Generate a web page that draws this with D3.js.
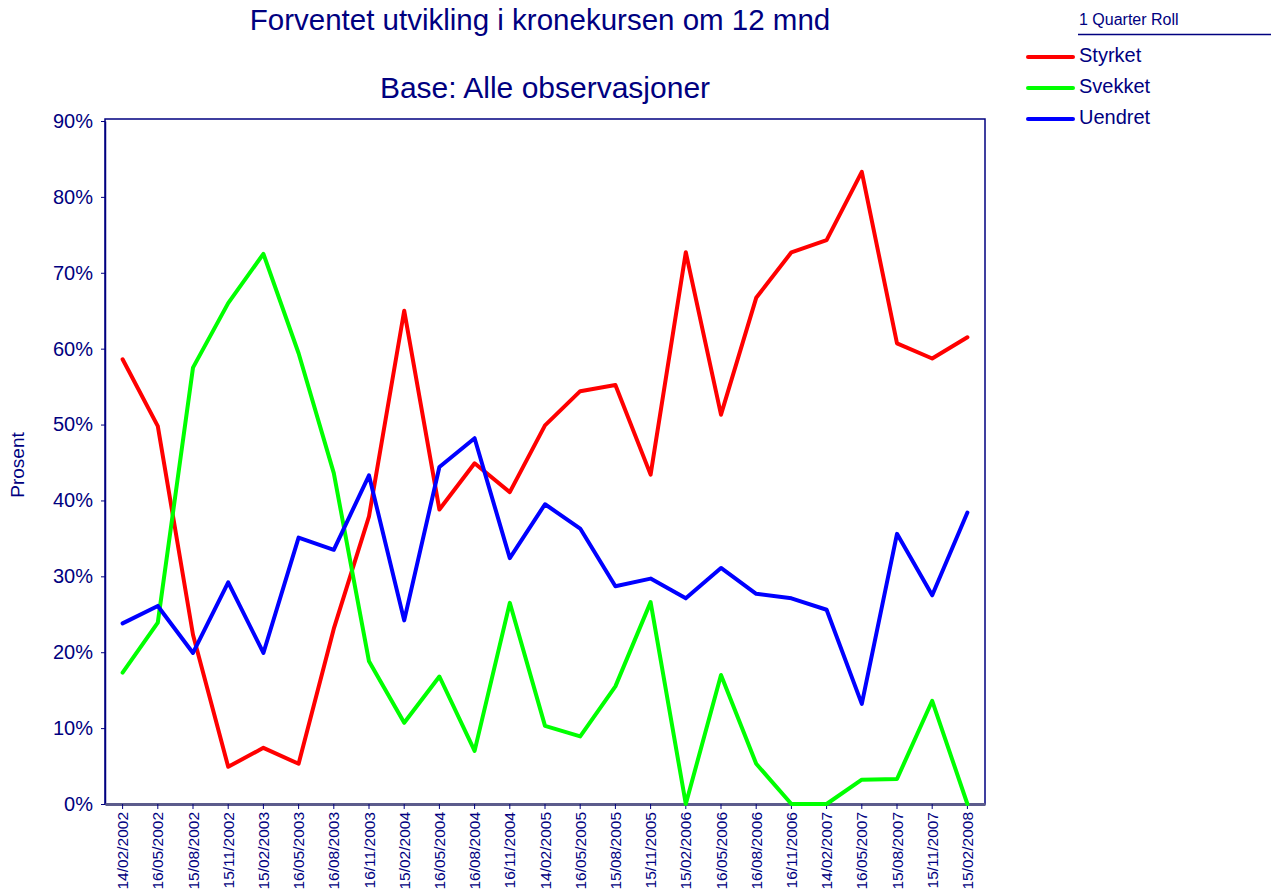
<!DOCTYPE html>
<html lang="no">
<head>
<meta charset="UTF-8" />
<title>Forventet utvikling i kronekursen om 12 mnd</title>
<script src="https://d3js.org/d3.v7.min.js"></script>
<style>
  body { margin: 0; background: #fff; }
  svg { display: block; font-family: "Liberation Sans", Arial, sans-serif; }
  text { fill: #000080; }
</style>
</head>
<body>
<script>
// quarterly observation dates
const dates = [
  "14/02/2002", "16/05/2002", "15/08/2002", "15/11/2002", "15/02/2003",
  "16/05/2003", "16/08/2003", "16/11/2003", "15/02/2004", "16/05/2004",
  "16/08/2004", "16/11/2004", "14/02/2005", "16/05/2005", "15/08/2005",
  "15/11/2005", "15/02/2006", "16/05/2006", "16/08/2006", "16/11/2006",
  "14/02/2007", "16/05/2007", "15/08/2007", "15/11/2007", "15/02/2008"
];
// percentages
const styrket = [58.6, 49.8, 22.3, 4.9, 7.4, 5.3, 23.1, 37.9, 65.0, 38.8,
  44.9, 41.1, 49.9, 54.4, 55.2, 43.4, 72.7, 51.3, 66.7, 72.7, 74.3, 83.3, 60.7, 58.7, 61.5];
const svekket = [17.3, 23.9, 57.5, 66.0, 72.5, 59.4, 43.6, 18.8, 10.7, 16.8,
  7.0, 26.5, 10.3, 8.9, 15.5, 26.6, 0, 17.0, 5.3, 0, 0, 3.2, 3.3, 13.6, 0];
const uendret = [23.8, 26.1, 19.9, 29.2, 19.9, 35.1, 33.5, 43.3, 24.2, 44.4,
  48.2, 32.4, 39.5, 36.3, 28.7, 29.7, 27.1, 31.1, 27.7, 27.1, 25.6, 13.2, 35.6, 27.5, 38.4];
const seriesNames = ["Styrket", "Svekket", "Uendret"];
const seriesColors = ["#ff0000", "#00ff00", "#0000ff"];
const yTicks = [0, 10, 20, 30, 40, 50, 60, 70, 80, 90];

const W = 1271, H = 893;
const navy = "#000080";
const plot = { left: 105, right: 985, top: 119, bottom: 804 };

const svg = d3.select("body").append("svg")
  .attr("width", W).attr("height", H);

const x = d3.scaleBand().domain(dates).range([plot.left, plot.right]);
const y = d3.scaleLinear().domain([0, 90]).range([plot.bottom, plot.top + 2]);

// titles
svg.append("text").attr("x", 540).attr("y", 30)
  .attr("text-anchor", "middle").attr("font-size", 29.5)
  .text("Forventet utvikling i kronekursen om 12 mnd");
svg.append("text").attr("x", 545).attr("y", 98)
  .attr("text-anchor", "middle").attr("font-size", 30)
  .text("Base: Alle observasjoner");

// plot frame
svg.append("rect")
  .attr("x", plot.left).attr("y", plot.top)
  .attr("width", plot.right - plot.left).attr("height", plot.bottom - plot.top)
  .attr("fill", "none").attr("stroke", navy).attr("stroke-width", 1.5);

// y axis
const yAxis = svg.append("g")
  .attr("transform", `translate(${plot.left},0)`)
  .call(d3.axisLeft(y).tickValues(yTicks).tickSize(4).tickSizeOuter(0)
    .tickPadding(8).tickFormat(d => d + "%"));
yAxis.select(".domain").attr("stroke", navy).attr("stroke-width", 1.5);
yAxis.selectAll(".tick line").attr("stroke", navy);
yAxis.selectAll(".tick text").attr("fill", navy).attr("font-size", 20)
  .attr("font-family", "Liberation Sans, Arial, sans-serif");

svg.append("text")
  .attr("transform", `translate(24,465) rotate(-90)`)
  .attr("text-anchor", "middle").attr("font-size", 19)
  .text("Prosent");

// x axis
const xAxis = svg.append("g")
  .attr("transform", `translate(0,${plot.bottom})`)
  .call(d3.axisBottom(x).tickSize(5).tickSizeOuter(0).tickPadding(4));
xAxis.select(".domain").attr("stroke", "#5c5c8c").attr("stroke-width", 3);
xAxis.selectAll(".tick line").attr("stroke", navy);
xAxis.selectAll(".tick text")
  .attr("fill", navy).attr("font-size", 15.5)
  .attr("font-family", "Liberation Sans, Arial, sans-serif")
  .attr("text-anchor", "end")
  .attr("transform", "rotate(-90)")
  .attr("x", -8).attr("y", 0).attr("dy", "0.36em");

// lines
const allSeries = [styrket, svekket, uendret];
const line = d3.line()
  .x((d, i) => x(dates[i]) + x.bandwidth() / 2)
  .y(d => y(d));

svg.append("g").selectAll("path")
  .data(allSeries)
  .join("path")
  .attr("d", line)
  .attr("fill", "none")
  .attr("stroke", (d, i) => seriesColors[i])
  .attr("stroke-width", 4)
  .attr("stroke-linejoin", "round")
  .attr("stroke-linecap", "round");

// legend
const legend = svg.append("g");
legend.append("text").attr("x", 1079).attr("y", 25).attr("font-size", 16).text("1 Quarter Roll");
legend.append("line").attr("x1", 1078).attr("x2", 1271).attr("y1", 34.5).attr("y2", 34.5)
  .attr("stroke", navy).attr("stroke-width", 1.5);
const item = legend.selectAll("g.item")
  .data(seriesNames)
  .join("g").attr("class", "item")
  .attr("transform", (d, i) => `translate(0,${57 + i * 31})`);
item.append("line").attr("x1", 1028).attr("x2", 1073)
  .attr("stroke", (d, i) => seriesColors[i]).attr("stroke-width", 4)
  .attr("stroke-linecap", "round");
item.append("text").attr("x", 1079).attr("y", -2).attr("dy", "0.35em")
  .attr("font-size", 20).text(d => d);
</script>
</body>
</html>
